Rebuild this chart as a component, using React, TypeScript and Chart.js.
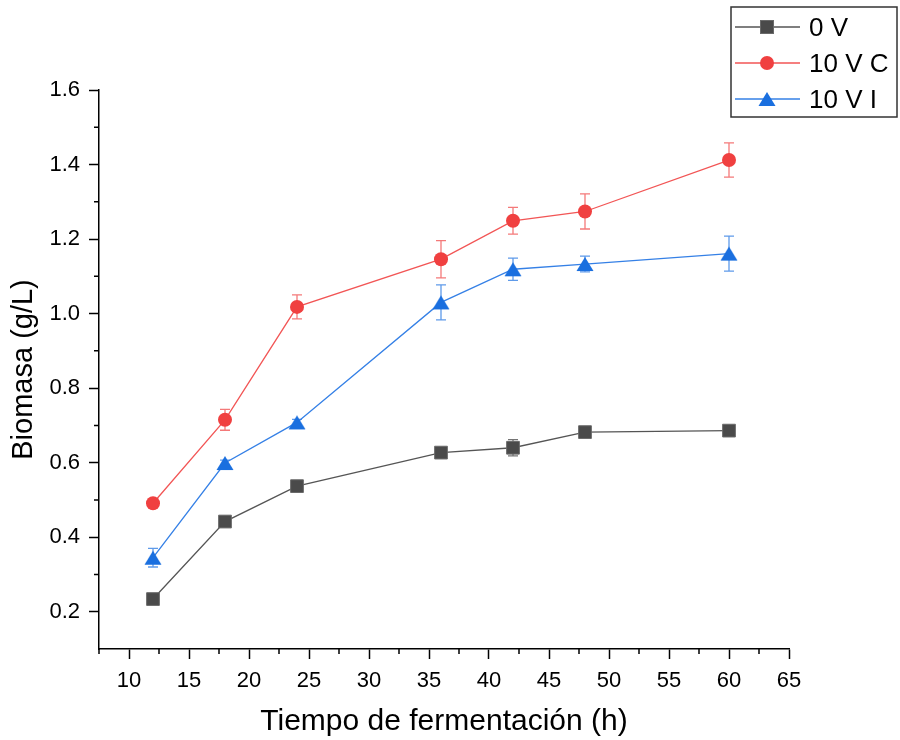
import React, { useEffect, useRef } from "react";
import { Chart, registerables } from "chart.js";

Chart.register(...registerables);

const hours = [12, 18, 24, 36, 42, 48, 60];
const v0 = [0.234, 0.442, 0.537, 0.627, 0.64, 0.682, 0.686];
const v10C = [0.491, 0.715, 1.018, 1.146, 1.249, 1.274, 1.412];
const v10I = [0.345, 0.599, 0.708, 1.03, 1.119, 1.133, 1.161];
const err0 = [0.008, 0.008, 0.006, 0.008, 0.022, 0.006, 0.005];
const err10C = [0.008, 0.028, 0.032, 0.05, 0.036, 0.047, 0.046];
const err10I = [0.025, 0.008, 0.008, 0.047, 0.03, 0.021, 0.047];
const seriesNames = ["0 V", "10 V C", "10 V I"];
const xMajor = [10, 15, 20, 25, 30, 35, 40, 45, 50, 55, 60, 65];
const xMinor = [7.5, 12.5, 17.5, 22.5, 27.5, 32.5, 37.5, 42.5, 47.5, 52.5, 57.5, 62.5];
const yMajor = [0.2, 0.4, 0.6, 0.8, 1.0, 1.2, 1.4, 1.6];
const yMinor = [0.3, 0.5, 0.7, 0.9, 1.1, 1.3, 1.5];

const FONT = "'Liberation Sans', Arial, Helvetica, sans-serif";
const COL = {
  gray: { line: "#555555", fill: "#4a4a4a", edge: "#6a6a6a", err: "rgba(70,70,70,0.75)" },
  red: { line: "#f25555", fill: "#f04040", edge: "#f04040", err: "rgba(240,64,64,0.7)" },
  blue: { line: "#3580e6", fill: "#1a6fdf", edge: "#1a6fdf", err: "rgba(26,111,223,0.7)" },
};

function makeTriangle(color: string) {
  const c = document.createElement("canvas");
  c.width = 20;
  c.height = 20;
  const g = c.getContext("2d")!;
  g.fillStyle = color;
  g.beginPath();
  g.moveTo(10, 3);
  g.lineTo(18.5, 17);
  g.lineTo(1.5, 17);
  g.closePath();
  g.fill();
  return c;
}

export default function App() {
  const ref = useRef<HTMLCanvasElement | null>(null);

  useEffect(() => {
    if (!ref.current) return;
    const tri = makeTriangle(COL.blue.fill);
    const errs = [err0, err10C, err10I];
    const errCols = [COL.gray.err, COL.red.err, COL.blue.err];

    const errorBars = {
      id: "errorBars",
      beforeDatasetsDraw(chart: any) {
        const { ctx, scales } = chart;
        const xs = scales.x;
        const ys = scales.y;
        chart.data.datasets.forEach((ds: any, i: number) => {
          ctx.save();
          ctx.strokeStyle = errCols[i];
          ctx.lineWidth = 1.3;
          ds.data.forEach((p: any, j: number) => {
            const e = errs[i][j];
            const x = xs.getPixelForValue(p.x);
            const yt = ys.getPixelForValue(p.y + e);
            const yb = ys.getPixelForValue(p.y - e);
            ctx.beginPath();
            ctx.moveTo(x, yt);
            ctx.lineTo(x, yb);
            ctx.moveTo(x - 5, yt);
            ctx.lineTo(x + 5, yt);
            ctx.moveTo(x - 5, yb);
            ctx.lineTo(x + 5, yb);
            ctx.stroke();
          });
          ctx.restore();
        });
      },
    };

    const minorTicks = {
      id: "minorTicks",
      afterDraw(chart: any) {
        const { ctx, scales, chartArea } = chart;
        ctx.save();
        ctx.strokeStyle = "#000";
        ctx.lineWidth = 1.5;
        ctx.beginPath();
        xMinor.forEach((v) => {
          const x = scales.x.getPixelForValue(v);
          ctx.moveTo(x, chartArea.bottom);
          ctx.lineTo(x, chartArea.bottom + 5);
        });
        yMinor.forEach((v) => {
          const y = scales.y.getPixelForValue(v);
          ctx.moveTo(chartArea.left - 5, y);
          ctx.lineTo(chartArea.left, y);
        });
        ctx.stroke();
        ctx.restore();
      },
    };

    const legendBox = {
      id: "legendBox",
      afterDraw(chart: any) {
        const { ctx } = chart;
        ctx.save();
        ctx.strokeStyle = "#333";
        ctx.lineWidth = 1.5;
        ctx.strokeRect(731, 7, 166, 110);
        const rows = [27, 63, 99];
        const lineCols = [COL.gray.line, COL.red.line, COL.blue.line];
        rows.forEach((y, i) => {
          ctx.strokeStyle = lineCols[i];
          ctx.lineWidth = 1.3;
          ctx.beginPath();
          ctx.moveTo(735, y);
          ctx.lineTo(800, y);
          ctx.stroke();
          const mx = 767;
          if (i === 0) {
            ctx.fillStyle = COL.gray.fill;
            ctx.fillRect(mx - 6.5, y - 6.5, 13, 13);
            ctx.strokeStyle = COL.gray.edge;
            ctx.lineWidth = 1;
            ctx.strokeRect(mx - 6.5, y - 6.5, 13, 13);
          } else if (i === 1) {
            ctx.fillStyle = COL.red.fill;
            ctx.beginPath();
            ctx.arc(mx, y, 7, 0, Math.PI * 2);
            ctx.fill();
          } else {
            ctx.drawImage(tri, mx - 10, y - 10);
          }
          ctx.fillStyle = "#000";
          ctx.font = `26px ${FONT}`;
          ctx.textBaseline = "middle";
          ctx.textAlign = "left";
          ctx.fillText(seriesNames[i], 809, y + 2);
        });
        ctx.restore();
      },
    };

    const chart = new Chart(ref.current, {
      type: "line",
      data: {
        datasets: [
          {
            label: seriesNames[0],
            data: hours.map((h, i) => ({ x: h, y: v0[i] })),
            borderColor: COL.gray.line,
            borderWidth: 1.3,
            pointStyle: "rect",
            pointRadius: 9,
            pointBackgroundColor: COL.gray.fill,
            pointBorderColor: COL.gray.edge,
            pointBorderWidth: 1,
          },
          {
            label: seriesNames[1],
            data: hours.map((h, i) => ({ x: h, y: v10C[i] })),
            borderColor: COL.red.line,
            borderWidth: 1.3,
            pointStyle: "circle",
            pointRadius: 7,
            pointBackgroundColor: COL.red.fill,
            pointBorderColor: COL.red.fill,
            pointBorderWidth: 0,
          },
          {
            label: seriesNames[2],
            data: hours.map((h, i) => ({ x: h, y: v10I[i] })),
            borderColor: COL.blue.line,
            borderWidth: 1.3,
            pointStyle: tri as any,
            pointRadius: 9,
            pointBackgroundColor: COL.blue.fill,
            pointBorderColor: COL.blue.fill,
            pointBorderWidth: 0,
          },
        ],
      },
      options: {
        responsive: false,
        animation: false,
        layout: { padding: { left: 0, right: 111, top: 90, bottom: 0 } },
        plugins: {
          legend: { display: false },
          tooltip: { enabled: false },
        },
        elements: { line: { tension: 0 } },
        scales: {
          x: {
            type: "linear",
            min: 7.5,
            max: 65,
            border: { color: "#000", width: 1.5 },
            grid: { drawOnChartArea: false, tickLength: 10, color: "#000", tickWidth: 1.5 },
            afterBuildTicks: (scale: any) => {
              scale.ticks = xMajor.map((v) => ({ value: v }));
            },
            afterFit: (scale: any) => {
              scale.height = 91;
            },
            ticks: {
              font: { family: FONT, size: 22 },
              color: "#000",
              padding: 9,
              maxRotation: 0,
              autoSkip: false,
              callback: (v: any) => String(v),
            },
            title: {
              display: true,
              text: "Tiempo de fermentación (h)",
              font: { family: FONT, size: 30 },
              color: "#000",
              padding: { top: 0, bottom: 0 },
            },
          },
          y: {
            type: "linear",
            min: 0.1,
            max: 1.6,
            border: { color: "#000", width: 1.5 },
            grid: { drawOnChartArea: false, tickLength: 10, color: "#000", tickWidth: 1.5 },
            afterBuildTicks: (scale: any) => {
              scale.ticks = yMajor.map((v) => ({ value: v }));
            },
            afterFit: (scale: any) => {
              scale.width = 99;
            },
            ticks: {
              font: { family: FONT, size: 22 },
              color: "#000",
              padding: 9,
              autoSkip: false,
              callback: (v: any) => Number(v).toFixed(1),
            },
            title: {
              display: true,
              text: "Biomasa (g/L)",
              font: { family: FONT, size: 29 },
              color: "#000",
              padding: { top: 7, bottom: 0 },
            },
          },
        },
      },
      plugins: [errorBars, minorTicks, legendBox],
    });
    return () => chart.destroy();
  }, []);

  return (
    <div style={{ position: "fixed", left: 0, top: 0, width: 900, height: 740, background: "#fff" }}>
      <canvas ref={ref} width={900} height={740} style={{ width: 900, height: 740, display: "block" }} />
    </div>
  );
}
